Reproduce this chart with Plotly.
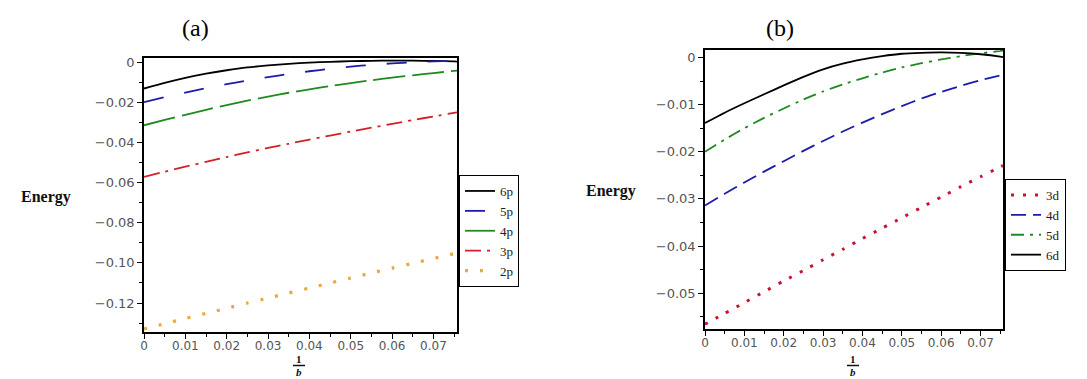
import plotly.graph_objects as go

W, H = 1087, 379

# ---------------- data ----------------
x_a = [0, 0.005, 0.01, 0.015, 0.02, 0.025, 0.03, 0.035, 0.04, 0.045, 0.05,
       0.055, 0.06, 0.065, 0.07, 0.075, 0.0757]
e_6p = [-0.0132, -0.0104, -0.0079, -0.0058, -0.0041, -0.0027, -0.0017, -0.0009, -0.0003,
        0.0001, 0.0004, 0.0006, 0.0007, 0.0007, 0.0005, 0.0003, 0.0002]
e_5p = [-0.0200, -0.0175, -0.0152, -0.0130, -0.0110, -0.0092, -0.0075, -0.0060, -0.0046,
        -0.0034, -0.0023, -0.0014, -0.0007, -0.0001, 0.0003, 0.0005, 0.0005]
e_4p = [-0.0315, -0.0288, -0.0263, -0.0238, -0.0214, -0.0192, -0.0172, -0.0153, -0.0136,
        -0.0120, -0.0105, -0.0091, -0.0078, -0.0066, -0.0055, -0.0044, -0.0043]
e_3p = [-0.0572, -0.0546, -0.0521, -0.0497, -0.0473, -0.0450, -0.0428, -0.0407, -0.0386,
        -0.0366, -0.0346, -0.0327, -0.0308, -0.0289, -0.0271, -0.0253, -0.0251]
e_2p = [-0.1329, -0.1303, -0.1277, -0.1251, -0.1226, -0.1200, -0.1175, -0.1150, -0.1125,
        -0.1100, -0.1075, -0.1050, -0.1026, -0.1002, -0.0978, -0.0954, -0.0951]

x_b = [0, 0.005, 0.01, 0.015, 0.02, 0.025, 0.03, 0.035, 0.04, 0.045, 0.05,
       0.055, 0.06, 0.065, 0.07, 0.075, 0.0757]
e_3d = [-0.0566, -0.0543, -0.0520, -0.0497, -0.0474, -0.0452, -0.0429, -0.0407, -0.0384,
        -0.0362, -0.0340, -0.0318, -0.0296, -0.0274, -0.0253, -0.0232, -0.0229]
e_4d = [-0.0314, -0.0289, -0.0265, -0.0242, -0.0220, -0.0198, -0.0177, -0.0157, -0.0138,
        -0.0120, -0.0103, -0.0087, -0.0073, -0.0060, -0.0048, -0.0038, -0.0037]
e_5d = [-0.0200, -0.0174, -0.0150, -0.0128, -0.0108, -0.0089, -0.0072, -0.0057, -0.0044,
        -0.0032, -0.0021, -0.0012, -0.0004, 0.0003, 0.0009, 0.0014, 0.0015]
e_6d = [-0.0139, -0.0117, -0.0097, -0.0078, -0.0059, -0.0041, -0.0025, -0.0013, -0.0004,
        0.0003, 0.0008, 0.0010, 0.0011, 0.0010, 0.0007, 0.0002, 0.0001]

x_ticks = [0, 0.01, 0.02, 0.03, 0.04, 0.05, 0.06, 0.07]
x_ticktext = ["0", "0.01", "0.02", "0.03", "0.04", "0.05", "0.06", "0.07"]
ya_ticks = [0, -0.02, -0.04, -0.06, -0.08, -0.10, -0.12]
ya_ticktext = ["0", "−0.02", "−0.04", "−0.06", "−0.08", "−0.10", "−0.12"]
yb_ticks = [0, -0.01, -0.02, -0.03, -0.04, -0.05]
yb_ticktext = ["0", "−0.01", "−0.02", "−0.03", "−0.04", "−0.05"]

# ---------------- helpers ----------------
def px_x(p):
    return p / W

def px_y(p):
    return 1 - p / H

SERIF = "Liberation Serif"
SANS = "DejaVu Sans"

fig = go.Figure()

def add(x, y, name, color, dash, width, xa, ya, legend):
    fig.add_trace(go.Scatter(
        x=x, y=y, mode="lines", name=name, xaxis=xa, yaxis=ya, legend=legend,
        line=dict(color=color, dash=dash, width=width, shape="spline", smoothing=0.6),
        hoverinfo="skip"))

# panel (a)
add(x_a, e_6p, "6p", "#000000", "solid", 1.8, "x", "y", "legend")
add(x_a, e_5p, "5p", "#1c1ca8", "20px,21px", 1.8, "x", "y", "legend")
add(x_a, e_4p, "4p", "#1f8a1f", "32px,7px", 1.8, "x", "y", "legend")
add(x_a, e_3p, "3p", "#d42027", "16px,6px,3px,6px", 1.8, "x", "y", "legend")
add(x_a, e_2p, "2p", "#eca83a", "3px,12px", 3.2, "x", "y", "legend")

# panel (b)
add(x_b, e_3d, "3d", "#cc1133", "3px,9px", 3.0, "x2", "y2", "legend2")
add(x_b, e_4d, "4d", "#1c1ca8", "15px,7px", 1.8, "x2", "y2", "legend2")
add(x_b, e_5d, "5d", "#1f8a1f", "13px,6px,3px,6px", 1.8, "x2", "y2", "legend2")
add(x_b, e_6d, "6d", "#000000", "solid", 1.8, "x2", "y2", "legend2")

tickfont = dict(family=SANS, size=12, color="#555555")

def xaxis(dom, anchor):
    return dict(domain=dom, anchor=anchor, range=[0, 0.0757],
                tickvals=x_ticks, ticktext=x_ticktext, ticks="outside", ticklen=5,
                tickcolor="#000", tickwidth=1, tickfont=tickfont, ticklabelstandoff=-3,
                minor=dict(tickvals=[0.005, 0.015, 0.025, 0.035, 0.045, 0.055, 0.065, 0.075],
                           ticks="outside", ticklen=3, tickcolor="#000"),
                showline=True, linecolor="#000", linewidth=1.5, mirror=True,
                showgrid=False, zeroline=False, fixedrange=True)

def yaxis(dom, anchor, rng, tv, tt, mdtick):
    return dict(domain=dom, anchor=anchor, range=rng, tickvals=tv, ticktext=tt,
                ticks="outside", ticklen=5, tickcolor="#000", tickwidth=1,
                tickfont=dict(family=SANS, size=13, color="#555555"),
                minor=dict(tick0=0, dtick=mdtick, ticks="outside", ticklen=3, tickcolor="#000"),
                showline=True, linecolor="#000", linewidth=1.5, mirror=True,
                showgrid=False, zeroline=False, fixedrange=True)

legfont = dict(family=SERIF, size=13, color="#222222")

fig.update_layout(
    width=W, height=H,
    margin=dict(l=0, r=0, t=0, b=0, autoexpand=False),
    paper_bgcolor="white", plot_bgcolor="white",
    xaxis=xaxis([px_x(144), px_x(457)], "y"),
    yaxis=yaxis([px_y(332), px_y(58)], "x", [-0.1344, 0.002], ya_ticks, ya_ticktext, 0.01),
    xaxis2=xaxis([px_x(705), px_x(1003)], "y2"),
    yaxis2=yaxis([px_y(329), px_y(50)], "x2", [-0.0576, 0.0016], yb_ticks, yb_ticktext, 0.005),
    legend=dict(x=px_x(459), y=px_y(175), xanchor="left", yanchor="top",
                bordercolor="#000", borderwidth=1, bgcolor="white", font=legfont,
                tracegroupgap=0, itemwidth=30, entrywidth=50),
    legend2=dict(x=px_x(1005), y=px_y(179), xanchor="left", yanchor="top",
                 bordercolor="#000", borderwidth=1, bgcolor="white", font=legfont,
                 tracegroupgap=0, itemwidth=30),
    showlegend=True,
)

annots = [
    dict(text="(a)", x=px_x(195), y=px_y(28), font=dict(family=SERIF, size=24, color="#000")),
    dict(text="(b)", x=px_x(780), y=px_y(28), font=dict(family=SERIF, size=24, color="#000")),
    dict(text="<b>Energy</b>", x=px_x(46), y=px_y(197), font=dict(family=SERIF, size=16, color="#111")),
    dict(text="<b>Energy</b>", x=px_x(611), y=px_y(191), font=dict(family=SERIF, size=16, color="#111")),
    dict(text="<b>1</b>", x=px_x(299), y=px_y(359), font=dict(family=SERIF, size=11, color="#111")),
    dict(text="<b><i>b</i></b>", x=px_x(299), y=px_y(372), font=dict(family=SERIF, size=11, color="#111")),
    dict(text="<b>1</b>", x=px_x(853), y=px_y(359), font=dict(family=SERIF, size=11, color="#111")),
    dict(text="<b><i>b</i></b>", x=px_x(853), y=px_y(372), font=dict(family=SERIF, size=11, color="#111")),
]
for a in annots:
    fig.add_annotation(xref="paper", yref="paper", showarrow=False,
                       xanchor="center", yanchor="middle", borderpad=0, **a)

for cx, cy in [(299, 365.5), (853, 365.5)]:
    fig.add_shape(type="line", xref="paper", yref="paper",
                  x0=px_x(cx - 6), x1=px_x(cx + 6), y0=px_y(cy), y1=px_y(cy),
                  line=dict(color="#111", width=1.5))

fig.write_html("out.html")
